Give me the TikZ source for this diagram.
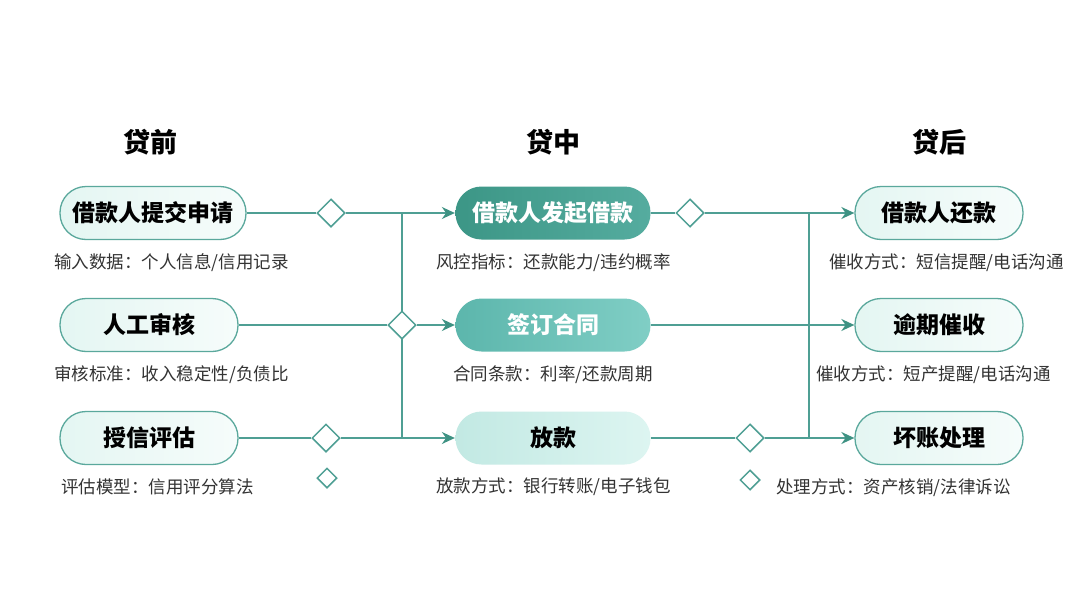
\documentclass[tikz,border=0pt]{standalone}
\usepackage{fontspec}
\setmainfont{Noto Sans CJK SC}
\usetikzlibrary{shapes.geometric,arrows.meta,backgrounds}
\definecolor{ln}{HTML}{4F9F94}
\definecolor{ah}{HTML}{3E9283}
\definecolor{pb}{HTML}{5AA89C}
\definecolor{lfa}{HTML}{E4F6F2}
\definecolor{lfb}{HTML}{F6FCFB}
\definecolor{maa}{HTML}{3C9686}
\definecolor{mab}{HTML}{55AC9F}
\definecolor{mba}{HTML}{5CB6AC}
\definecolor{mbb}{HTML}{80CEC5}
\definecolor{mca}{HTML}{C2E9E3}
\definecolor{mcb}{HTML}{DDF5F1}
\definecolor{tx}{HTML}{333333}
\begin{document}
\begin{tikzpicture}[x=1pt,y=-1pt,
  pill/.style={rectangle, rounded corners=26pt, minimum height=53pt, inner sep=0pt,
    font=\bfseries\fontsize{23}{27}\selectfont, line width=1.3pt},
  lite/.style={pill, draw=pb, left color=lfa, right color=lfb},
  mida/.style={pill, left color=maa, right color=mab, text=white, minimum width=195pt},
  midb/.style={pill, left color=mba, right color=mbb, text=white, minimum width=195pt},
  midc/.style={pill, left color=mca, right color=mcb, text=black, minimum width=195pt},
  dia/.style={diamond, draw=ln, fill=white, line width=1.5pt, minimum width=28pt,
    minimum height=28pt, inner sep=0pt},
  smalldia/.style={dia, minimum width=20pt, minimum height=20pt},
  conn/.style={draw=ln, line width=1.5pt},
  arr/.style={conn, -{Stealth[length=13pt,width=12pt,color=ah]}},
  lbl/.style={font=\fontsize{17.5}{21}\selectfont, text=tx, anchor=west, inner sep=0pt},
  hdr/.style={font=\bfseries\fontsize{27}{32}\selectfont, inner sep=0pt}]
\useasboundingbox (0,0) rectangle (1080,608);

% headers
\node[hdr] (h1) at (150,142) {贷前};
\node[hdr] (h2) at (553,142) {贷中};
\node[hdr] (h3) at (939,142) {贷后};

% left column
\node[lite, minimum width=186pt] (L1) at (153,213) {借款人提交申请};
\node[lite, minimum width=178pt] (L2) at (149,325) {人工审核};
\node[lite, minimum width=178pt] (L3) at (149,438) {授信评估};
\node[lbl] (t1) at (54,263) {输入数据：个人信息/信用记录};
\node[lbl] (t2) at (54,375) {审核标准：收入稳定性/负债比};
\node[lbl] (t3) at (61,487) {评估模型：信用评分算法};

% middle column
\node[mida] (M1) at (553,213) {借款人发起借款};
\node[midb] (M2) at (553,325) {签订合同};
\node[midc] (M3) at (553,438) {放款};
\node[lbl] (m1) at (436,263) {风控指标：还款能力/违约概率};
\node[lbl, anchor=center] (m2) at (553,375) {合同条款：利率/还款周期};
\node[lbl] (m3) at (436,487) {放款方式：银行转账/电子钱包};

% right column
\node[lite, minimum width=168pt] (R1) at (939,213) {借款人还款};
\node[lite, minimum width=168pt] (R2) at (939,325) {逾期催收};
\node[lite, minimum width=168pt] (R3) at (939,438) {坏账处理};
\node[lbl] (r1) at (829,263) {催收方式：短信提醒/电话沟通};
\node[lbl] (r2) at (816,375) {催收方式：短产提醒/电话沟通};
\node[lbl] (r3) at (776,488) {处理方式：资产核销/法律诉讼};

% diamonds
\node[dia] (d1) at (331,213) {};
\node[dia] (d2) at (402,325) {};
\node[dia] (d3) at (326,438) {};
\node[dia] (d4) at (690,213) {};
\node[dia] (d5) at (750,438) {};
\node[smalldia] (s1) at (327,478) {};
\node[smalldia] (s2) at (750,480) {};

\coordinate (j1) at (402,213);
\coordinate (j3) at (402,438);
\coordinate (k1) at (809,213);
\coordinate (k3) at (809,438);

\begin{scope}[on background layer]
\fill[white] (0,0) rectangle (1080,608);
\draw[conn] (L1) -- (d1);
\draw[arr] (d1) -- (M1);
\draw[conn] (L2) -- (d2);
\draw[arr] (d2) -- (M2);
\draw[conn] (L3) -- (d3);
\draw[arr] (d3) -- (M3);
\draw[conn] (j1) -- (j3);
\draw[conn] (M1) -- (d4);
\draw[arr] (d4) -- (R1);
\draw[arr] (M2) -- (R2);
\draw[conn] (M3) -- (d5);
\draw[arr] (d5) -- (R3);
\draw[conn] (k1) -- (k3);
\end{scope}
\end{tikzpicture}
\end{document}
